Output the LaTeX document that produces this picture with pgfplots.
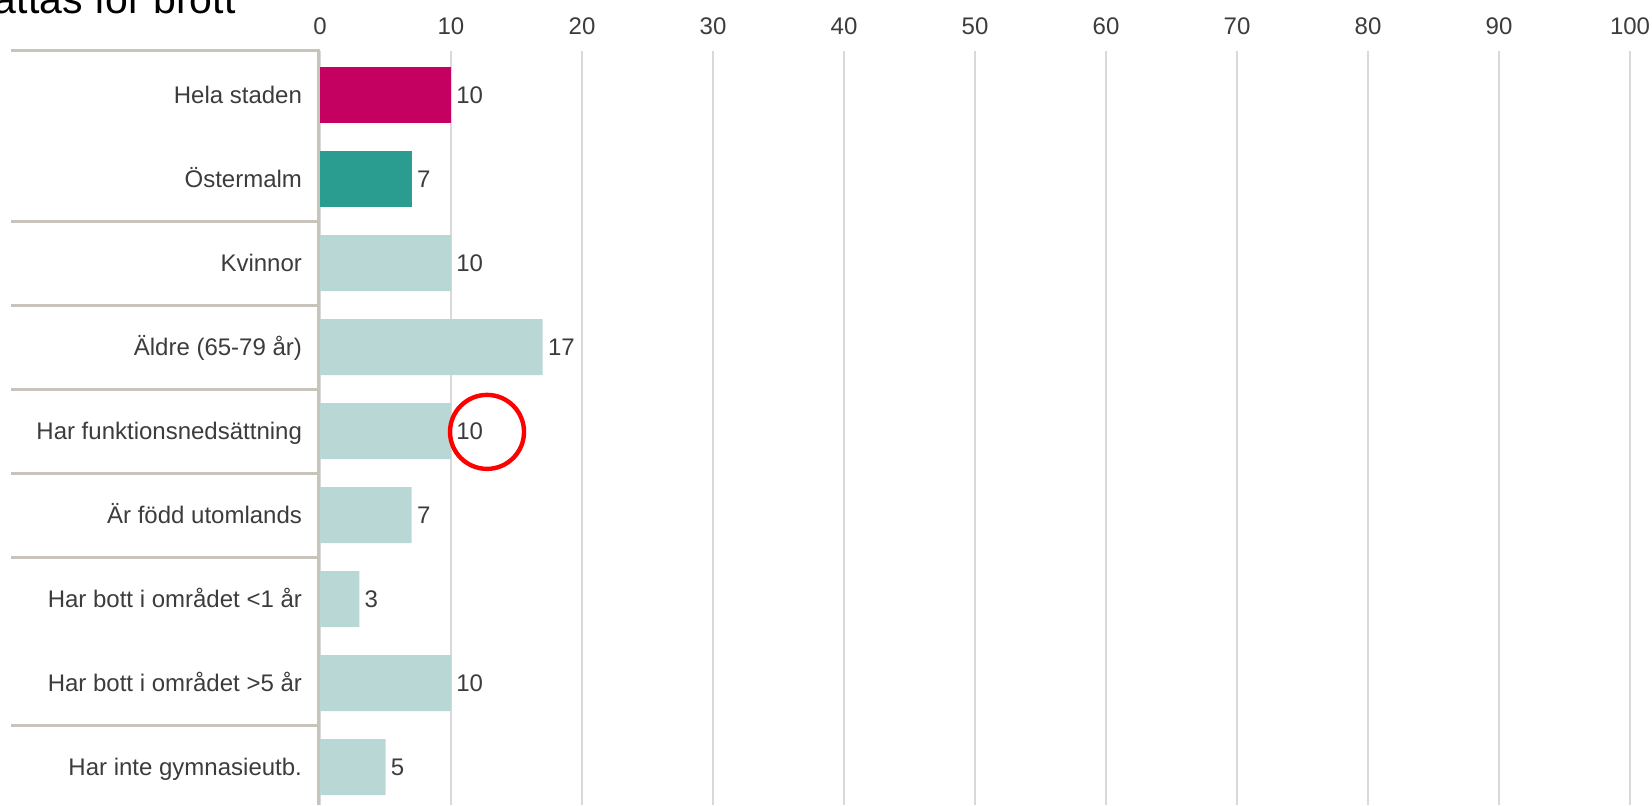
\documentclass[border=0pt]{standalone}
\usepackage{fontspec}
\setmainfont{Liberation Sans}
\usepackage{pgfplots}
\pgfplotsset{compat=1.18}
\definecolor{hela}{RGB}{196,0,96}
\definecolor{oster}{RGB}{42,157,144}
\definecolor{lightbar}{RGB}{185,216,213}
\definecolor{sepc}{RGB}{200,196,188}
\definecolor{txt}{RGB}{60,60,60}
\definecolor{gridc}{RGB}{217,217,217}
\begin{document}
\begin{tikzpicture}
\path[use as bounding box] (0,0) rectangle (826pt,-402.5pt);
\clip (0,0) rectangle (826pt,-402.5pt);
\node[anchor=base east, inner sep=0pt, font=\fontsize{20.5}{24}\selectfont] at (118pt,-6.5pt) {Andel som utsattas för brott};
\begin{axis}[
  at={(160pt,-402.5pt)}, anchor=south west,
  width=655pt, height=377.25pt, scale only axis,
  xmin=0, xmax=100, ymin=-0.53, ymax=8.452,
  y dir=reverse,
  clip=false,
  axis line style={draw=none},
  major tick style={draw=none},
  /pgf/number format/assume math mode=true,
  xtick={0,10,...,100},
  xticklabel pos=upper,
  xmajorgrids,
  grid style={gridc, line width=1pt},
  ytick={0,...,8},
  yticklabels={Hela staden, Östermalm, Kvinnor, Äldre (65-79 år), Har funktionsnedsättning, Är född utomlands, Har bott i området <1 år, Har bott i området >5 år, Har inte gymnasieutb.},
  ticklabel style={font=\fontsize{12}{14}\selectfont, text=txt},
  xticklabel style={anchor=base, yshift=8pt},
  yticklabel style={anchor=base east, xshift=-5.5pt, yshift=-4.3pt},
  barstyle/.style={xbar, bar width=0.667, bar shift=0pt, draw=none,
    nodes near coords, point meta=x, nodes near coords align={horizontal},
    every node near coord/.append style={anchor=base west, inner sep=0pt, xshift=2.5pt, yshift=-4.3pt, font=\fontsize{12}{14}\selectfont, text=txt}},
]
\addplot[barstyle, fill=hela] coordinates {(10,0)};
\addplot[barstyle, fill=oster] coordinates {(7,1)};
\addplot[barstyle, fill=lightbar] coordinates {(10,2) (17,3) (10,4) (7,5) (3,6) (10,7) (5,8)};
\draw[sepc, line width=1.5pt] (axis cs:-23.6,-0.53) -- (axis cs:-0.1,-0.53) -- (axis cs:-0.1,8.452);
\pgfplotsinvokeforeach{1.5,2.5,3.5,4.5,5.5,7.5}{
  \draw[sepc, line width=1.5pt] (axis cs:-23.6,#1) -- (axis cs:-0.1,#1);
}
\draw[red, line width=2.2pt] (axis cs:12.75,4.01) circle [radius=18.5pt];
\end{axis}
\end{tikzpicture}
\end{document}
